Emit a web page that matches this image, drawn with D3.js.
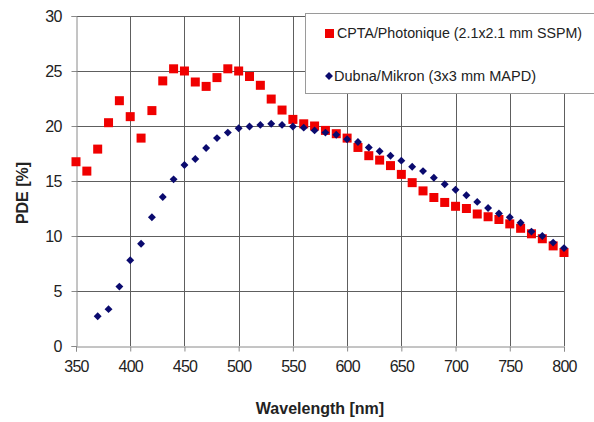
<!DOCTYPE html>
<html>
<head>
<meta charset="utf-8">
<script src="https://cdn.jsdelivr.net/npm/d3@7"></script>
<style>
  body { margin: 0; background: #fff; }
  svg { display: block; font-family: 'Liberation Sans', Arial, sans-serif; }
</style>
</head>
<body>
<svg id="chart" width="594" height="422"></svg>
<script>
// CPTA/Photonique (2.1x2.1 mm SSPM)
var cptaWavelength = [350, 360, 370, 380, 390, 400, 410, 420, 430, 440, 450, 460, 470, 480, 490, 500,
  510, 520, 530, 540, 550, 560, 570, 580, 590, 600, 610, 620, 630, 640, 650, 660, 670, 680, 690, 700,
  710, 720, 730, 740, 750, 760, 770, 780, 790, 800];
var cptaPDE = [16.75, 15.9, 17.9, 20.3, 22.3, 20.85, 18.9, 21.4, 24.1, 25.2, 25.0, 24.0, 23.6, 24.4, 25.2, 25.0,
  24.5, 23.7, 22.45, 21.45, 20.6, 20.2, 20.0, 19.6, 19.3, 18.9, 18.05, 17.3, 16.9, 16.4, 15.6, 14.85, 14.1, 13.5, 13.05, 12.7,
  12.5, 12.0, 11.75, 11.5, 11.1, 10.7, 10.2, 9.75, 9.1, 8.5];

// Dubna/Mikron (3x3 mm MAPD)
var dubnaWavelength = [370, 380, 390, 400, 410, 420, 430, 440, 450, 460, 470, 480, 490, 500,
  510, 520, 530, 540, 550, 560, 570, 580, 590, 600, 610, 620, 630, 640, 650, 660, 670, 680, 690, 700,
  710, 720, 730, 740, 750, 760, 770, 780, 790, 800];
var dubnaPDE = [2.7, 3.35, 5.4, 7.8, 9.3, 11.7, 13.55, 15.15, 16.45, 17.0, 18.0, 18.9, 19.4, 19.8,
  19.95, 20.1, 20.2, 20.1, 19.95, 19.85, 19.6, 19.4, 19.2, 18.8, 18.55, 18.05, 17.7, 17.3, 16.85, 16.3, 15.9, 15.3, 14.7, 14.2,
  13.7, 13.1, 12.55, 12.05, 11.7, 11.2, 10.4, 10.0, 9.4, 8.9];

var xTicks = [350, 400, 450, 500, 550, 600, 650, 700, 750, 800];
var yTicks = [0, 5, 10, 15, 20, 25, 30];
var seriesNames = ['CPTA/Photonique (2.1x2.1 mm SSPM)', 'Dubna/Mikron (3x3 mm MAPD)'];

var svg = d3.select('#chart');
var margin = { top: 16, right: 30, bottom: 76, left: 76 };
var width = 594, height = 422;

var x = d3.scaleLinear().domain([350, 800]).range([margin.left, width - margin.right]);
var y = d3.scaleLinear().domain([0, 30]).range([height - margin.bottom, margin.top]);

// gridlines
var grid = svg.append('g').attr('stroke', '#5e5e5e').attr('stroke-width', 1);
grid.selectAll('.hg').data(yTicks.filter(function (d) { return d > 0; })).enter()
  .append('line')
  .attr('x1', x(350)).attr('x2', x(800))
  .attr('y1', function (d) { return Math.round(y(d)) + 0.5; })
  .attr('y2', function (d) { return Math.round(y(d)) + 0.5; });
grid.selectAll('.vg').data(xTicks.filter(function (d) { return d > 350; })).enter()
  .append('line')
  .attr('y1', y(0)).attr('y2', y(30))
  .attr('x1', function (d) { return Math.round(x(d)) + 0.5; })
  .attr('x2', function (d) { return Math.round(x(d)) + 0.5; });

// axes
var xAxis = svg.append('g')
  .attr('transform', 'translate(0,' + (Math.round(y(0)) + 0.5) + ')')
  .call(d3.axisBottom(x).tickValues(xTicks).tickSize(5).tickPadding(9));
var yAxis = svg.append('g')
  .attr('transform', 'translate(' + (Math.round(x(350)) + 0.5) + ',0)')
  .call(d3.axisLeft(y).tickValues(yTicks).tickSize(5).tickPadding(10));

[xAxis, yAxis].forEach(function (a) {
  a.select('.domain').attr('stroke', '#8a8a8a');
  a.selectAll('.tick line').attr('stroke', '#8a8a8a');
  a.selectAll('.tick text')
    .attr('fill', '#222')
    .style('font-size', '16px')
    .style('letter-spacing', '-0.8px');
});

// axis titles
svg.append('text')
  .attr('x', (x(350) + x(800)) / 2)
  .attr('y', 414)
  .attr('text-anchor', 'middle')
  .style('font-size', '16px')
  .style('font-weight', 'bold')
  .attr('fill', '#222')
  .text('Wavelength [nm]');

svg.append('text')
  .attr('transform', 'translate(28,' + ((y(0) + y(30)) / 2 + 12) + ') rotate(-90)')
  .attr('text-anchor', 'middle')
  .style('font-size', '16px')
  .style('font-weight', 'bold')
  .attr('fill', '#222')
  .text('PDE [%]');

var cpta = cptaWavelength.map(function (w, i) { return { w: w, v: cptaPDE[i] }; });
var dubna = dubnaWavelength.map(function (w, i) { return { w: w, v: dubnaPDE[i] }; });

// CPTA squares
svg.append('g').selectAll('rect').data(cpta).enter()
  .append('rect')
  .attr('x', function (d) { return x(d.w) - 4.5; })
  .attr('y', function (d) { return y(d.v) - 4.5; })
  .attr('width', 9).attr('height', 9)
  .attr('fill', '#f00000');

// Dubna diamonds
var diamond = d3.symbol().type(d3.symbolDiamond2).size(40);
svg.append('g').selectAll('path').data(dubna).enter()
  .append('path')
  .attr('d', diamond)
  .attr('transform', function (d) { return 'translate(' + x(d.w) + ',' + y(d.v) + ')'; })
  .attr('fill', '#0a0a6e');

// legend
var legend = svg.append('g');
legend.append('rect')
  .attr('x', 305.5).attr('y', 13.5).attr('width', 300).attr('height', 80)
  .attr('fill', '#fff').attr('stroke', '#9a9a9a');
legend.append('rect').attr('x', 325).attr('y', 29).attr('width', 9).attr('height', 9).attr('fill', '#f00000');
legend.append('path').attr('d', diamond).attr('transform', 'translate(329,76)').attr('fill', '#0a0a6e');
legend.append('text')
  .attr('x', 337).attr('y', 38)
  .attr('textLength', 245).attr('lengthAdjust', 'spacingAndGlyphs')
  .style('font-size', '14px').attr('fill', '#222')
  .text(seriesNames[0]);
legend.append('text')
  .attr('x', 334).attr('y', 81)
  .attr('textLength', 202).attr('lengthAdjust', 'spacingAndGlyphs')
  .style('font-size', '14px').attr('fill', '#222')
  .text(seriesNames[1]);
</script>
</body>
</html>
